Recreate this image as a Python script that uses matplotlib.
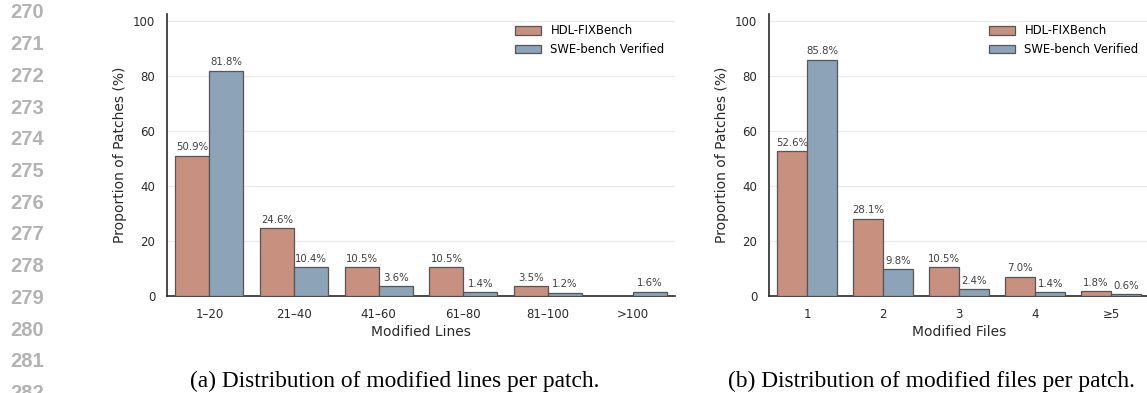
import matplotlib
matplotlib.use("Agg")
import matplotlib.pyplot as plt
import numpy as np

# data
line_bins = ["1–20", "21–40", "41–60", "61–80", "81–100", ">100"]
hdl_lines = [50.9, 24.6, 10.5, 10.5, 3.5, 0.0]
swe_lines = [81.8, 10.4, 3.6, 1.4, 1.2, 1.6]

file_bins = ["1", "2", "3", "4", "≥5"]
hdl_files = [52.6, 28.1, 10.5, 7.0, 1.8]
swe_files = [85.8, 9.8, 2.4, 1.4, 0.6]

series_names = ["HDL-FIXBench", "SWE-bench Verified"]
colors = ["#C8907F", "#8DA3B7"]
line_numbers = list(range(270, 283))

plt.rcParams["font.family"] = "DejaVu Sans"

fig = plt.figure(figsize=(11.47, 3.93), dpi=100)
W, H = 1147, 393


def panel(rect, cats, hdl, swe, xlabel):
    ax = fig.add_axes(rect)
    x = np.arange(len(cats))
    w = 0.4
    for vals, off, col, name in [(hdl, -w / 2, colors[0], series_names[0]),
                                 (swe, w / 2, colors[1], series_names[1])]:
        bars = ax.bar(x + off, vals, w, color=col, edgecolor="#555555",
                      linewidth=0.9, label=name, zorder=3)
        for b, v in zip(bars, vals):
            if v > 0:
                ax.annotate(f"{v:.1f}%", (b.get_x() + b.get_width() / 2, v),
                            xytext=(0, 2.5), textcoords="offset points",
                            ha="center", va="bottom", fontsize=7.3,
                            color="#3f3f3f")
    ax.set_xticks(x)
    ax.set_xticklabels(cats)
    ax.set_xlim(-0.5, len(cats) - 0.5)
    ax.set_ylim(0, 102.5)
    ax.set_yticks([0, 20, 40, 60, 80, 100])
    ax.tick_params(length=0, pad=8.5, labelsize=8.5, colors="#2a2a2a")
    ax.yaxis.grid(True, color="#ebebeb", linewidth=0.9, zorder=0)
    ax.set_axisbelow(True)
    for s in ["top", "right"]:
        ax.spines[s].set_visible(False)
    for s in ["left", "bottom"]:
        ax.spines[s].set_color("#2a2a2a")
        ax.spines[s].set_linewidth(1.2)
    ax.set_xlabel(xlabel, fontsize=10, color="#2a2a2a", labelpad=3)
    ax.set_ylabel("Proportion of Patches (%)", fontsize=10, color="#2a2a2a")
    ax.legend(loc="upper right", frameon=False, fontsize=8.4,
              handlelength=2.2)
    return ax


bottom = (H - 296) / H
height = (296 - 14) / H
panel([167 / W, bottom, (675 - 167) / W, height], line_bins, hdl_lines,
      swe_lines, "Modified Lines")
panel([769 / W, bottom, (1149 - 769) / W, height], file_bins, hdl_files,
      swe_files, "Modified Files")

# captions
fig.text(395 / W, 1 - 381 / H, "(a) Distribution of modified lines per patch.",
         ha="center", va="center", fontsize=16.8, family="Liberation Serif")
fig.text(931 / W, 1 - 381 / H, "(b) Distribution of modified files per patch.",
         ha="center", va="center", fontsize=16.8, family="Liberation Serif")

# page line numbers (the last one is cut by the page crop, as in the reference)
for i, n in enumerate(line_numbers):
    fig.text(27 / W, 1 - (13 + i * 31.7) / H, str(n), ha="center", va="center",
             fontsize=14.5, fontweight="bold", color="#b3b3b3",
             family="Liberation Sans")

fig.savefig("out.png", dpi=100)
